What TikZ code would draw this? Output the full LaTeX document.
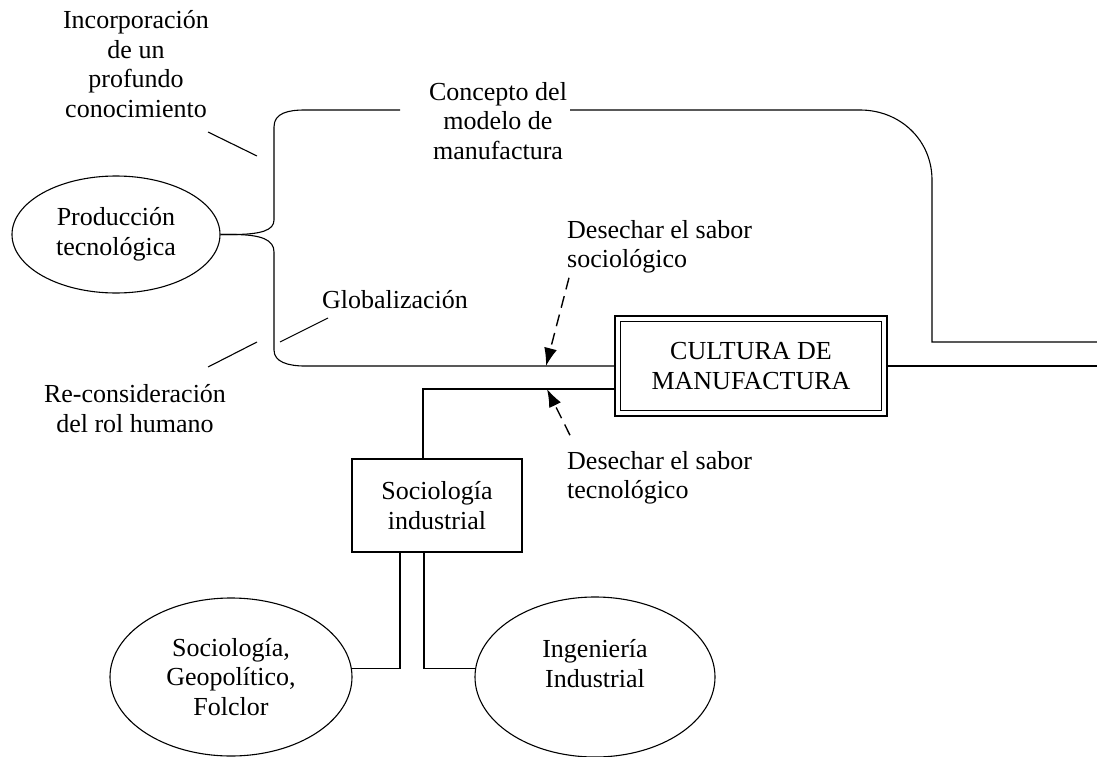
\documentclass[tikz,border=0pt]{standalone}
\usepackage{fontspec}
\setmainfont{Liberation Serif}
\usetikzlibrary{shapes.geometric,arrows.meta}

\tikzstyle{line} = [draw, line width=1.1pt]
\tikzstyle{dashline} = [draw, line width=1.4pt, dash pattern=on 12pt off 7pt, -{Latex[length=18pt,width=13pt]}]
\tikzstyle{oval} = [ellipse, draw, line width=1.1pt, inner sep=0pt, align=center]
\tikzstyle{block} = [rectangle, draw, line width=1.1pt, align=center]
\tikzstyle{tag} = [align=center, inner sep=0pt]

\begin{document}
\begin{tikzpicture}[x=1pt,y=-1pt,font=\fontsize{26}{29.5}\selectfont]
		\useasboundingbox (0,0) rectangle (1097,757);
		
		%boxes
		\node[oval,minimum width=208,minimum height=117](prod) at (116,234.5) {Producción\\tecnológica};
		\node[block,line width=2pt,minimum width=272,minimum height=100](cultura) at (751,366) {CULTURA DE\\MANUFACTURA};
		\draw[line] ([shift={(6.5,6.5)}]cultura.north west) rectangle ([shift={(-6.5,-6.5)}]cultura.south east);
		\node[block,minimum width=170,minimum height=93](socind) at (437,505.5) {Sociología\\industrial};
		\node[oval,minimum width=242,minimum height=158](socgeo) at (231,677) {Sociología,\\Geopolítico,\\Folclor};
		\node[oval,minimum width=240,minimum height=160](ing) at (595,677) {Ingeniería\\Industrial\\[-2pt]};
		
		%labels
		\node[tag](incorp) at (136,64) {Incorporación\\de un\\profundo\\conocimiento};
		\node[tag](concepto) at (498,121) {Concepto del\\modelo de\\manufactura};
		\node[tag](glob) at (395,300) {Globalización};
		\node[tag](recons) at (135,408.5) {Re-consideración\\del rol humano};
		\node[tag,anchor=west,align=left](dsoc) at (567,247) {Desechar el sabor\\sociológico};
		\node[tag,anchor=west,align=left](dtec) at (567,478) {Desechar el sabor\\tecnológico};
		
		%free ends
		\coordinate (gapL) at (400,110);
		\coordinate (gapR) at (570,110);
		\coordinate (outTop) at (1097,342);
		\coordinate (outR) at (1097,366);
		\coordinate (hitS) at (546,366);
		\coordinate (hitT) at (547,389);
		\coordinate (incA) at (208,132);
		\coordinate (incB) at (257,156);
		\coordinate (globA) at (328,318);
		\coordinate (globB) at (280,342);
		\coordinate (recA) at (208,367);
		\coordinate (recB) at (257,342);
		
		%branches
		\draw[line] (prod.east) -- ++(12,0) .. controls (262,234.5) and (274,230) .. (274,220) -- (274,127) .. controls (274,113) and (288,110) .. (305,110) -- (gapL);
		\draw[line] (gapR) -- (860,110) .. controls (900,110) and (932,140) .. (932,180) -- (932,342) -- (outTop);
		\draw[line] (prod.east) -- ++(12,0) .. controls (262,234.5) and (274,240) .. (274,252) -- (274,350) .. controls (274,362) and (288,366) .. (305,366) -- (cultura.west);
		\draw[line] ([xshift=-14]socind.north) |- ([yshift=-23]cultura.west);
		\draw[line] (cultura.east) -- (outR);
		\draw[line] ([xshift=-37]socind.south) |- (socgeo.4);
		\draw[line] ([xshift=-13]socind.south) |- (ing.176);
		
		%pointers
		\draw[line] (incA) -- (incB);
		\draw[line] (globA) -- (globB);
		\draw[line] (recA) -- (recB);
		\draw[dashline] ([shift={(2,4)}]dsoc.south west) -- (hitS);
		\draw[dashline] ([shift={(3,-16)}]dtec.north west) -- (hitT);
\end{tikzpicture}
\end{document}
